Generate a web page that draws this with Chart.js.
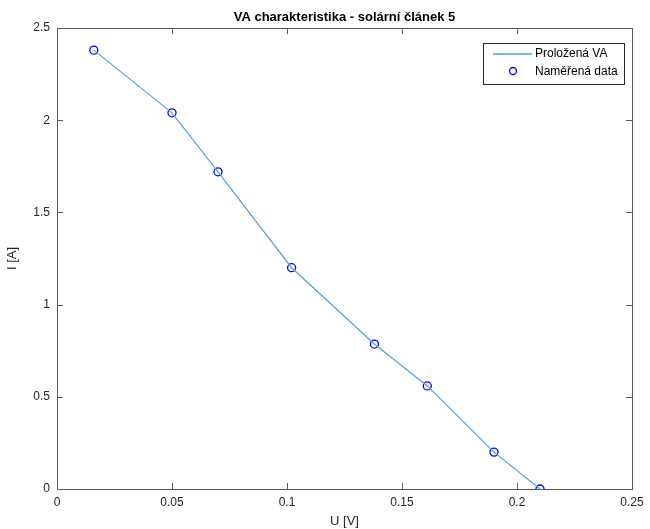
<!DOCTYPE html>
<html>
<head>
<meta charset="utf-8">
<script src="https://cdn.jsdelivr.net/npm/chart.js@4"></script>
<style>
  html, body { margin: 0; padding: 0; background: #fff; }
  #wrap { width: 650px; height: 529px; }
</style>
</head>
<body>
<div id="wrap"><canvas id="chart1" width="650" height="529"></canvas></div>
<script>
// measured points U [V], I [A]
const voltage = [0.016, 0.05, 0.07, 0.102, 0.138, 0.161, 0.19, 0.21];
const current = [2.38, 2.04, 1.72, 1.2, 0.786, 0.559, 0.2, 0];
const xTicks = [0, 0.05, 0.1, 0.15, 0.2, 0.25];
const yTicks = [0, 0.5, 1, 1.5, 2, 2.5];
const seriesNames = ['Proložená VA', 'Naměřená data'];
const titleText = 'VA charakteristika - solární článek 5';

const font = '"Liberation Sans", Arial, sans-serif';
const axisColor = '#5a5a5a';
const lineColor = '#4da3d9';
const markColor = '#0000ff';

function toPoints(xs, ys) {
  return xs.map((x, i) => ({ x: x, y: ys[i] }));
}

// box, inward ticks, title and legend like the matlab figure
const matlabAxes = {
  id: 'matlabAxes',
  afterDraw(chart) {
    const ctx = chart.ctx;
    const a = chart.chartArea;
    const xs = chart.scales.x, ys = chart.scales.y;
    ctx.save();
    ctx.strokeStyle = axisColor;
    ctx.lineWidth = 1;
    ctx.strokeRect(Math.round(a.left) + 0.5, Math.round(a.top) + 0.5,
      Math.round(a.right - a.left), Math.round(a.bottom - a.top));
    ctx.beginPath();
    xTicks.forEach(v => {
      const px = Math.round(xs.getPixelForValue(v)) + 0.5;
      ctx.moveTo(px, a.bottom); ctx.lineTo(px, a.bottom - 6);
      ctx.moveTo(px, a.top); ctx.lineTo(px, a.top + 6);
    });
    yTicks.forEach(v => {
      const py = Math.round(ys.getPixelForValue(v)) + 0.5;
      ctx.moveTo(a.left, py); ctx.lineTo(a.left + 6, py);
      ctx.moveTo(a.right, py); ctx.lineTo(a.right - 6, py);
    });
    ctx.stroke();

    // title
    ctx.fillStyle = '#000';
    ctx.font = 'bold 13px ' + font;
    ctx.textAlign = 'center';
    ctx.textBaseline = 'middle';
    ctx.fillText(titleText, (a.left + a.right) / 2, 17);

    // legend
    const bx = Math.round(a.right) - 149, by = Math.round(a.top) + 15, bw = 141, bh = 41;
    ctx.fillStyle = '#fff';
    ctx.fillRect(bx, by, bw, bh);
    ctx.strokeStyle = '#262626';
    ctx.strokeRect(bx + 0.5, by + 0.5, bw, bh);
    ctx.font = '12px ' + font;
    ctx.textAlign = 'left';
    ctx.fillStyle = '#000';
    ctx.fillText(seriesNames[0], bx + 52, by + 11);
    ctx.fillText(seriesNames[1], bx + 52, by + 29);
    ctx.strokeStyle = lineColor;
    ctx.lineWidth = 1.5;
    ctx.beginPath();
    ctx.moveTo(bx + 10, by + 11); ctx.lineTo(bx + 49, by + 11);
    ctx.stroke();
    ctx.strokeStyle = markColor;
    ctx.lineWidth = 1.3;
    ctx.beginPath();
    ctx.arc(bx + 30, by + 28, 3.5, 0, Math.PI * 2);
    ctx.stroke();
    ctx.restore();
  }
};

const chart = new Chart('chart1', {
  type: 'scatter',
  data: {
    datasets: [
      {
        label: seriesNames[0],
        data: toPoints(voltage, current),
        showLine: true,
        borderColor: lineColor,
        borderWidth: 1.2,
        pointRadius: 0,
        fill: false
      },
      {
        label: seriesNames[1],
        data: toPoints(voltage, current),
        showLine: false,
        borderColor: markColor,
        backgroundColor: 'rgba(0,0,0,0)',
        borderWidth: 1.3,
        pointRadius: 4
      }
    ]
  },
  options: {
    responsive: false,
    animation: false,
    layout: { padding: { top: 28, right: 18, left: 5, bottom: 0 } },
    plugins: {
      legend: { display: false },
      title: { display: false },
      tooltip: { enabled: false }
    },
    scales: {
      x: {
        type: 'linear',
        min: 0, max: 0.25,
        afterBuildTicks: s => { s.ticks = xTicks.map(v => ({ value: v })); },
        afterFit: s => { s.height = 40; },
        grid: { display: false, drawTicks: false },
        border: { display: false },
        ticks: {
          padding: 6,
          color: '#262626',
          font: { family: font, size: 12 },
          maxRotation: 0,
          callback: v => String(Number(v.toFixed(2)))
        },
        title: {
          display: true, text: 'U [V]', color: '#262626',
          font: { family: font, size: 13 }, padding: { top: 0, bottom: 0 }
        }
      },
      y: {
        type: 'linear',
        min: 0, max: 2.5,
        afterBuildTicks: s => { s.ticks = yTicks.map(v => ({ value: v })); },
        afterFit: s => { s.width = 52; },
        grid: { display: false, drawTicks: false },
        border: { display: false },
        ticks: {
          padding: 7,
          color: '#262626',
          font: { family: font, size: 12 },
          callback: v => String(Number(v.toFixed(2)))
        },
        title: {
          display: true, text: 'I [A]', color: '#262626',
          font: { family: font, size: 13 }, padding: { top: 0, bottom: 0 }
        }
      }
    }
  },
  plugins: [matlabAxes]
});
</script>
</body>
</html>
